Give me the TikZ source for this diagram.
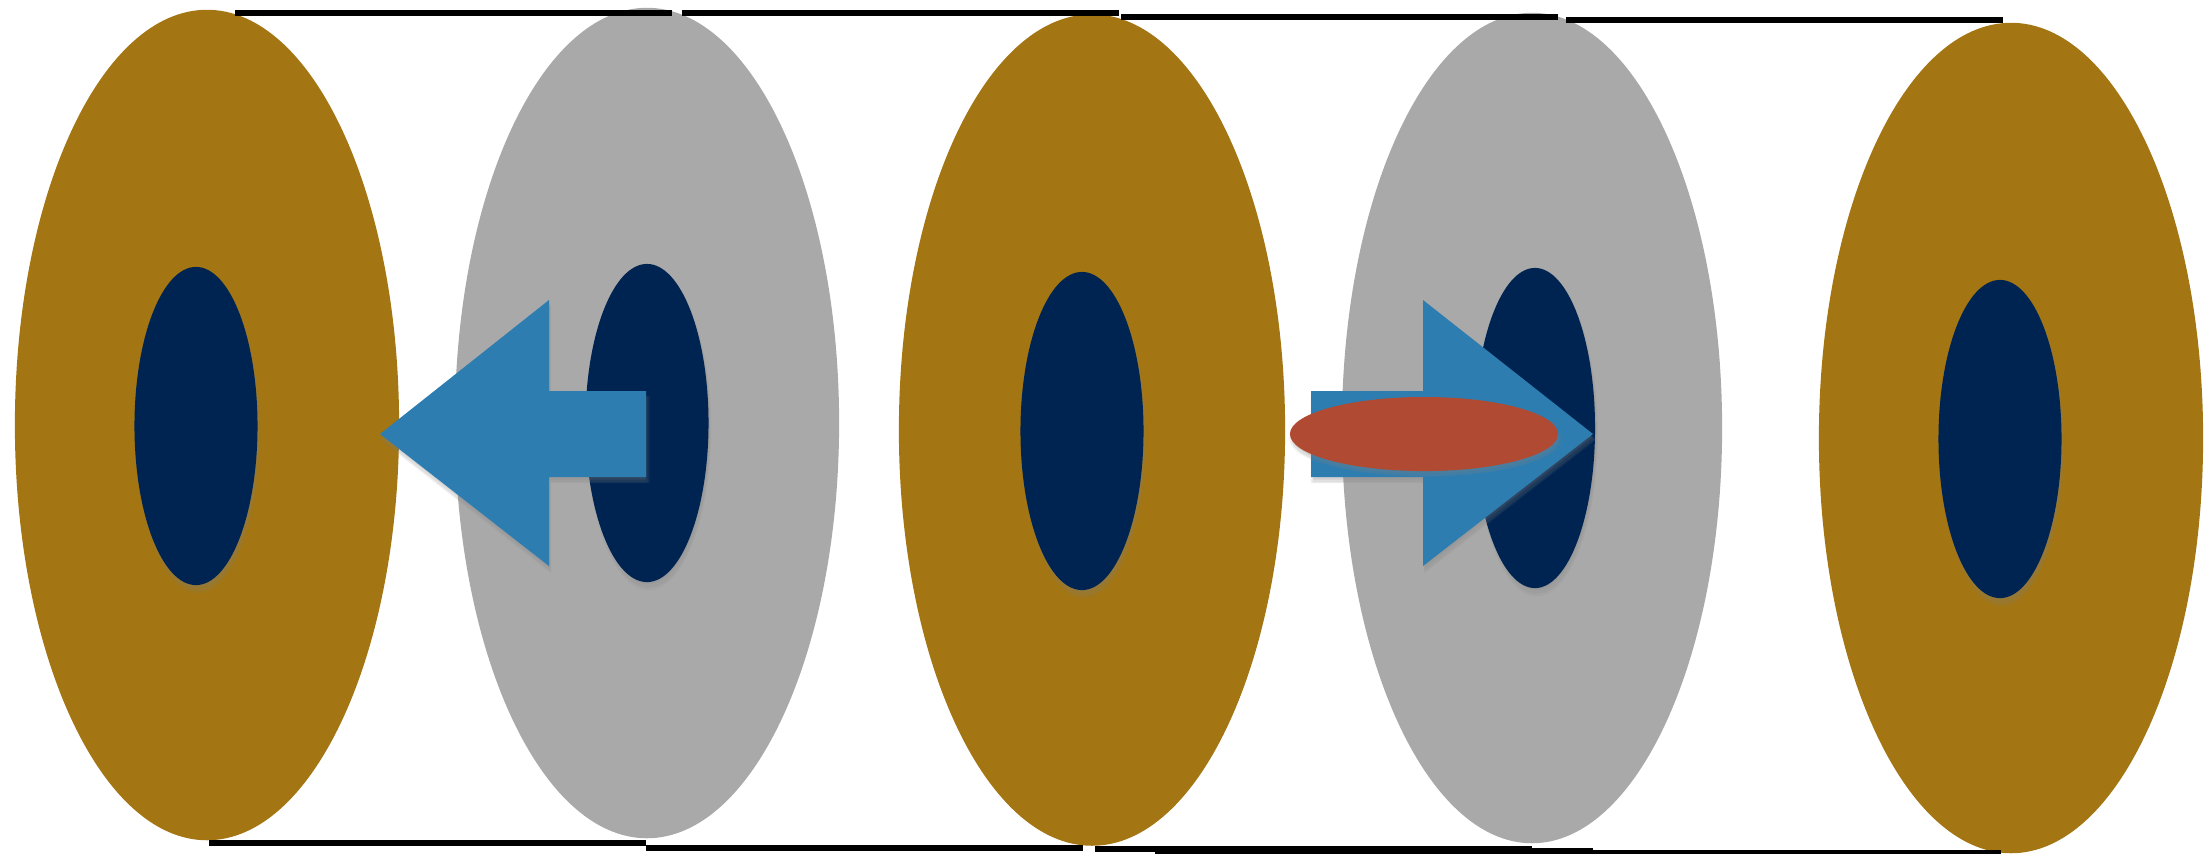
\documentclass[tikz,border=0pt]{standalone}
\usetikzlibrary{shapes.geometric,shadows}

\definecolor{ochre}{RGB}{163,117,19}
\definecolor{ringgray}{RGB}{169,169,169}
\definecolor{navy}{RGB}{0,36,81}
\definecolor{steel}{RGB}{46,125,176}
\definecolor{brick}{RGB}{176,74,50}

\begin{document}
\begin{tikzpicture}[
    x=0.01cm, y=-0.01cm,
    disk/.style={ellipse, inner sep=0pt, outer sep=0pt, minimum width=3.84cm, minimum height=8.3cm},
    golddisk/.style={disk, fill=ochre},
    graydisk/.style={disk, fill=ringgray},
    soft/.style={
        drop shadow={shadow xshift=#1*0.3pt, shadow yshift=-#1*1pt, shadow scale=1.015, opacity=0.12},
        drop shadow={shadow xshift=#1*0.3pt, shadow yshift=-#1*1pt, opacity=0.14},
        drop shadow={shadow xshift=#1*0.2pt, shadow yshift=-#1*0.6pt, shadow scale=0.99, opacity=0.16}},
    core/.style={ellipse, inner sep=0pt, outer sep=0pt, minimum width=1.23cm, minimum height=3.18cm, fill=navy, soft=1.6},
    rim/.style={line width=0.06cm, black},
    push/.style={fill=steel, soft=1.5},
    puck/.style={ellipse, inner sep=0pt, outer sep=0pt, minimum width=2.68cm, minimum height=0.74cm, fill=brick, soft=1.4}
]
\useasboundingbox (0,0) rectangle (2205,853);

% outer rings
\node[golddisk] (d1) at (207,425) {};
\node[graydisk] (d2) at (647,423) {};
\node[golddisk, minimum width=3.86cm, minimum height=8.31cm] (d3) at (1092,430) {};
\node[graydisk, minimum width=3.8cm] (d4) at (1532,428) {};
\node[golddisk] (d5) at (2011,438) {};

% inner cores
\node[core] (c1) at (196,426) {};
\node[core] (c2) at (647,423) {};
\node[core] (c3) at (1082,431) {};
\node[core, minimum width=1.2cm, minimum height=3.2cm] (c4) at (1535,428) {};
\node[core] (c5) at (2000,439) {};

% tube outline, top
\draw[rim] ([shift={(28,3)}]d1.north) -- ++(437,0);
\draw[rim] ([shift={(35,5)}]d2.north) -- ++(437,0);
\draw[rim] ([shift={(29,2.5)}]d3.north) -- ++(437,0);
\draw[rim] ([shift={(34,7.5)}]d4.north) -- ++(437,0);

% tube outline, bottom
\draw[rim] ([shift={(2,3)}]d1.south) -- ++(437,0);
\draw[rim] ([shift={(-1,10)}]d2.south) -- ++(437,0);
\draw[rim] ([shift={(3,3.5)}]d3.south) -- ++(437,0);
\draw[rim] ([shift={(63,5.5)}]d3.south) -- ++(438,0);
\draw[rim] ([shift={(30,9.5)}]d4.south) -- ++(439,0);

% arrows
\fill[push] (646,391) -- (549,391) -- (549,300) -- (380,434) -- (549,566) -- (549,477) -- (646,477) -- cycle;
\fill[push] (1311,391) -- (1423,391) -- (1423,300) -- (1593,434) -- (1423,566) -- (1423,477) -- (1311,477) -- cycle;

\node[puck] (p) at (1424,434) {};
\end{tikzpicture}
\end{document}
